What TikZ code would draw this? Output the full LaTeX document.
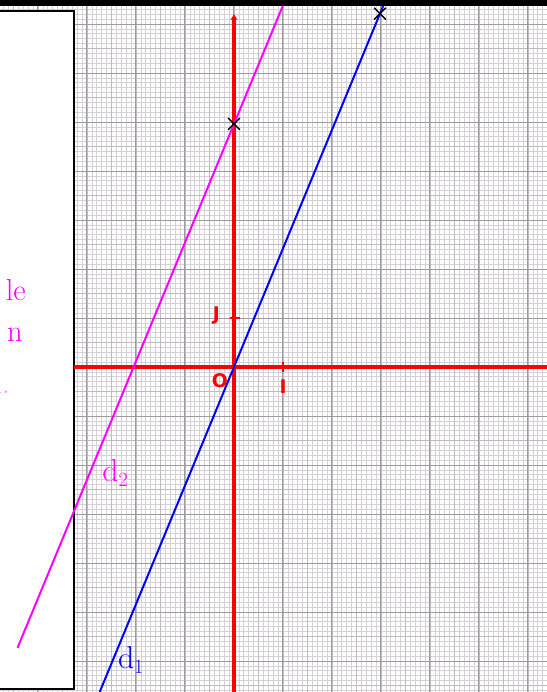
\documentclass[tikz,border=0pt]{standalone}
\usepackage{fontspec}
\setsansfont{DejaVu Sans}
\usetikzlibrary{arrows.meta}
\definecolor{finegray}{RGB}{214,208,216}
\definecolor{midgray}{RGB}{190,188,194}
\definecolor{majgray}{RGB}{155,155,160}
\definecolor{penmagenta}{RGB}{255,0,255}

\begin{document}
\begin{tikzpicture}[
    x=1.47cm, y=1.47cm,
    finegrid/.style={draw=finegray, line width=0.6pt},
    midgrid/.style={draw=midgray, line width=0.75pt},
    majgrid/.style={draw=majgray, line width=0.85pt},
    axis/.style={draw=red, line width=2.6pt},
    tick/.style={draw=red, line width=1.6pt},
    axislabel/.style={text=red, font=\sffamily\bfseries\fontsize{16}{18}\selectfont, inner sep=0pt},
    cross/.style={draw=black, line width=1.2pt},
    pen/.style={font=\fontsize{27}{30}\selectfont, inner sep=0pt},
    boxtext/.style={text=penmagenta, font=\fontsize{26}{28}\selectfont, inner sep=0pt, anchor=east}
  ]
  \useasboundingbox (-4.7755,-6.6327) rectangle (6.3878,7.4898);
  \fill[white] (-4.7755,-6.6327) rectangle (6.3878,7.4898);
  \draw[finegrid, step=0.1] (-4.7755,-6.6327) grid (6.3878,7.4898);
  \draw[midgrid, step=0.5] (-4.7755,-6.6327) grid (6.3878,7.4898);
  \draw[majgrid, step=1] (-4.7755,-6.6327) grid (6.3878,7.4898);
  \fill[black] (-4.7755,7.367) rectangle (6.3878,7.4898);
  \filldraw[fill=white, draw=black, line width=1.7pt] (-4.9,7.265) rectangle (-3.265,-6.571);

  \coordinate (xl) at (-3.265,0);
  \coordinate (xr) at (6.3878,0);
  \coordinate (yb) at (0,-6.6327);
  \coordinate (yt) at (0,7.2);
  \draw[axis] (xl) -- (xr);
  \draw[axis, -{Stealth[length=5pt,width=6pt]}] (yb) -- (yt);
  \coordinate (Ia) at (1,0.11);
  \coordinate (Ib) at (1,-0.11);
  \coordinate (Ja) at (-0.09,1);
  \coordinate (Jb) at (0.12,1);
  \draw[tick] (Ia) -- (Ib);
  \draw[tick] (Ja) -- (Jb);
  \node[axislabel] (O) at (-0.29,-0.27) {O};
  \node[axislabel] (I) at (1.0,-0.4) {I};
  \node[axislabel] (J) at (-0.36,1.04) {J};

  \coordinate (d1a) at (-2.741,-6.6327);
  \coordinate (d1b) at (3.044,7.367);
  \coordinate (d2a) at (-4.417,-5.73);
  \coordinate (d2b) at (0.995,7.367);
  \draw[blue, line width=1.7pt] (d1a) -- (d1b);
  \draw[penmagenta, line width=1.7pt] (d2a) -- (d2b);

  \coordinate (A) at (0,4.96);
  \coordinate (B) at (2.98,7.21);
  \foreach \p in {A,B}{
    \draw[cross] ([shift={(-0.12,-0.12)}]\p) -- ([shift={(0.12,0.12)}]\p);
    \draw[cross] ([shift={(-0.12,0.12)}]\p) -- ([shift={(0.12,-0.12)}]\p);
  }

  \node[pen, text=penmagenta] (labd2) at (-2.42,-2.16) {d$_2$};
  \node[pen, text=blue] (labd1) at (-2.1,-5.98) {d$_1$};

  \node[boxtext] (t1) at (-4.245,1.57) {le};
  \node[boxtext] (t2) at (-4.306,0.65) {n};
  \node[boxtext, text=penmagenta!45] (t3) at (-4.571,-0.33) {l.};
\end{tikzpicture}
\end{document}
